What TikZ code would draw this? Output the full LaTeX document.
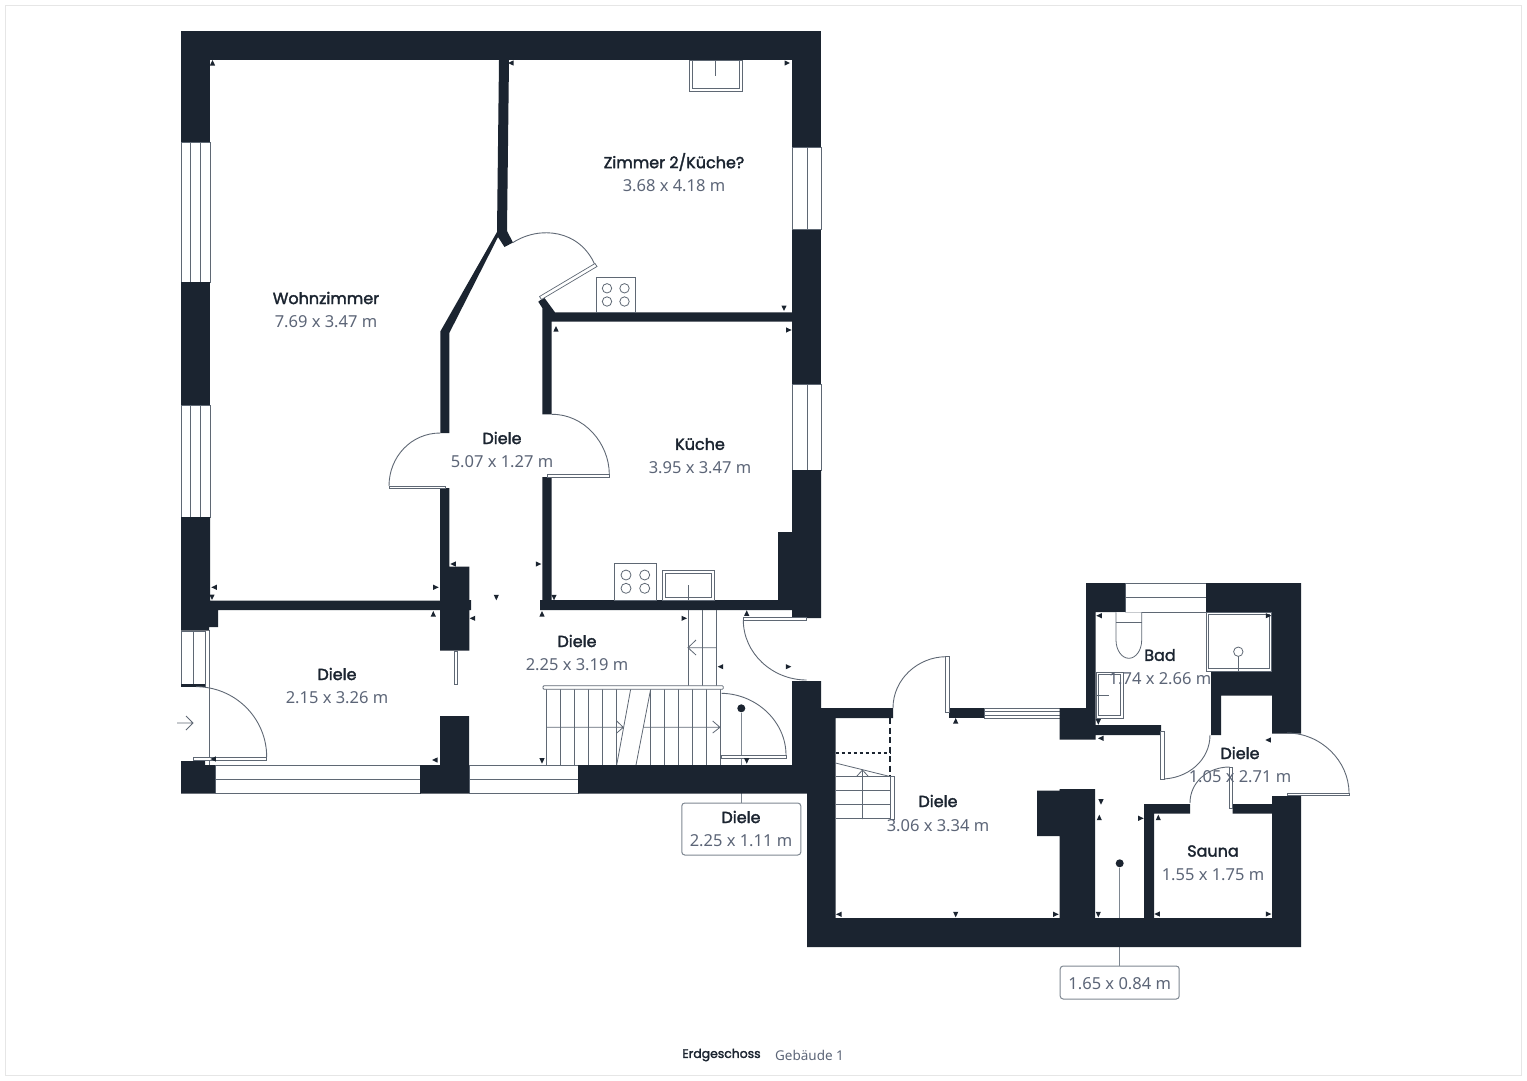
\documentclass[tikz,border=0pt]{standalone}
\usepackage{fontspec}
\setmainfont{Noto Sans}
\newfontfamily\labfont{Poppins}[FakeBold=2]
\definecolor{wallc}{HTML}{1B2430}
\definecolor{linec}{HTML}{5F6874}
\definecolor{dimc}{HTML}{5C6577}
\definecolor{leadc}{HTML}{7E8791}
\definecolor{framec}{HTML}{E6E6E6}
\tikzset{
  wall/.style={fill=wallc,draw=none},
  thinl/.style={draw=linec,line width=0.8pt},
  fix/.style={draw=linec,line width=0.8pt,fill=white},
  leaf/.style={draw=linec,line width=0.7pt,fill=white},
  arcl/.style={draw=linec,line width=0.9pt},
  room/.style={inner sep=0pt,align=center,text=wallc,font=\labfont\fontsize{16}{18}\selectfont},
  dimen/.style={inner sep=0pt,align=center,text=dimc,yshift=-1pt,font=\fontsize{16.5}{20}\selectfont},
  tagbox/.style={draw=leadc,line width=1pt,rounded corners=3pt,fill=white,inner sep=0pt},
  dotn/.style={circle,fill=wallc,inner sep=0pt,minimum size=8pt},
  leader/.style={draw=leadc,line width=1pt},
}
\newcommand{\mk}[3]{\fill[wallc,shift={(#1,#2)},rotate=#3] (-2.5,-2.6) -- (3,0) -- (-2.5,2.6) -- cycle;}
\begin{document}
\begin{tikzpicture}[x=1pt,y=-1pt]
\useasboundingbox (0,0) rectangle (1527,1080);
\draw[framec,line width=1pt] (5,5) rectangle (1521,1075);

% leaders
\node[dotn] (dotA) at (741.3,708.3) {};
\node[dotn] (dotB) at (1119.7,863.3) {};
\node[tagbox,minimum width=119pt,minimum height=52pt] (tagA) at (741.3,829) {};
\node[tagbox,minimum width=119pt,minimum height=33pt] (tagB) at (1119.7,982.5) {};
\draw[leader] (dotA) -- (tagA);
\draw[leader] (dotB) -- (tagB);

% windows
\foreach \ya/\yb in {142/282,405/517}{
  \draw[thinl] (181,\ya) rectangle (210,\yb);
  \draw[thinl] (190.7,\ya) -- (190.7,\yb) (200.7,\ya) -- (200.7,\yb);
}
\foreach \ya/\yb in {147/229.5,384/470}{
  \draw[thinl] (792,\ya) rectangle (821,\yb);
  \draw[thinl] (807,\ya) -- (807,\yb);
}
\foreach \xa/\xb in {215/420,469/578}{
  \draw[thinl] (\xa,765) rectangle (\xb,793.5);
  \draw[thinl] (\xa,779) -- (\xb,779);
}
\draw[thinl] (181,631) rectangle (205,686);
\draw[thinl] (193,631) -- (193,686);
\draw[thinl] (209.5,630) -- (209.5,765);
\draw[thinl] (1125,583) rectangle (1206,612);
\draw[thinl] (1125,597) -- (1206,597);
\draw[thinl] (984,708.5) rectangle (1060,718);
\draw[thinl] (984,711.5) -- (1060,711.5) (984,715) -- (1060,715);

% walls
\fill[wall] (181,31) rectangle (821,60);
\fill[wall] (181,31) rectangle (210,142);
\fill[wall] (181,282) rectangle (210,405);
\fill[wall] (792,31) rectangle (821,147);
\fill[wall] (792,229.5) rectangle (821,384);
\fill[wall] (792,470) -- (821,470) -- (821,618) -- (792,618) -- (792,610) -- (540,610) -- (540,600) -- (542.3,600) -- (542.3,477) -- (551.7,477) -- (551.7,600) -- (778,600) -- (778,532) -- (792,532) -- cycle;
\fill[wall] (538.3,301.7) -- (544,297.3) -- (555,312.3) -- (792,312.3) -- (792,321.7) -- (551.7,321.7) -- (551.7,414.3) -- (542.3,414.3) -- (542.3,308) -- cycle;
\fill[wall] (499,60) -- (509,60) -- (507,231) -- (513,242.5) -- (504.5,247) -- (498,237) -- (449.3,333) -- (449.3,433) -- (440.3,433) -- (440.3,331.5) -- (497,232) -- cycle;
\fill[wall] (181,517) -- (210,517) -- (210,600.5) -- (440,600.5) -- (440,488) -- (449.3,488) -- (449.3,566.7) -- (469.3,566.7) -- (469.3,600) -- (471,600) -- (471,610) -- (469.3,610) -- (469.3,650.7) -- (440,650.7) -- (440,610) -- (218,610) -- (218,627) -- (209,627) -- (209,630.7) -- (181,630.7) -- cycle;
\fill[wall] (181,684) rectangle (205,686.5);
\fill[wall] (181,761) -- (205,761) -- (205,765) -- (215,765) -- (215,793.5) -- (181,793.5) -- cycle;
\fill[wall] (420,765) -- (440,765) -- (440,716) -- (469,716) -- (469,793.5) -- (420,793.5) -- cycle;
\fill[wall] (578,765) -- (792,765) -- (792,681) -- (821,681) -- (821,708) -- (893,708) -- (893,718) -- (835.5,718) -- (835.5,918) -- (1059.5,918) -- (1059.5,836) -- (1037,836) -- (1037,790.5) -- (1059.5,790.5) -- (1059.5,789) -- (1095,789) -- (1095,918) -- (1144,918) -- (1144,804) -- (1190,804) -- (1190,813.5) -- (1154,813.5) -- (1154,918) -- (1272,918) -- (1272,813.5) -- (1232.7,813.5) -- (1232.7,804) -- (1272,804) -- (1272,796) -- (1301,796) -- (1301,947) -- (807,947) -- (807,793.5) -- (578,793.5) -- cycle;
\fill[wall] (949,708) rectangle (984,718);
\fill[wall] (1086,583) -- (1125,583) -- (1125,612) -- (1095.5,612) -- (1095.5,725) -- (1161,725) -- (1161,735) -- (1095.5,735) -- (1095.5,739.5) -- (1059.5,739.5) -- (1059.5,708) -- (1086,708) -- cycle;
\fill[wall] (1206,583) -- (1301,583) -- (1301,733.5) -- (1272,733.5) -- (1272,695.5) -- (1221,695.5) -- (1221,735) -- (1211,735) -- (1211,671) -- (1206,671) -- cycle;

% doors
\draw[arcl] (512.7,242.7) .. controls (540,225) and (580,230) .. (595,265);
\draw[leaf] (595,263.5) -- (597,266.5) -- (541.5,299.5) -- (539.5,296.5) -- cycle;
\draw[arcl] (440.3,433) .. controls (411,433) and (389,457) .. (389,486);
\draw[leaf] (389,486) rectangle (445,488.5);
\draw[arcl] (551.7,414.3) .. controls (584,414) and (609,443) .. (609.3,474);
\draw[leaf] (547,474) rectangle (609.3,477);
\draw[arcl] (196,686.7) .. controls (235,686.7) and (266.7,718) .. (266.7,757);
\draw[leaf] (193,757.5) rectangle (266.7,760.5);
\draw[leaf] (454,651) rectangle (457,684);
\draw[arcl] (721.7,693.3) .. controls (757,694) and (786,722) .. (786,755);
\draw[leaf] (721,755) rectangle (786.7,758);
\draw[arcl] (743.3,620) .. controls (743.3,653) and (772,680) .. (806.7,680);
\draw[leaf] (743.3,617.7) rectangle (806.7,620.3);
\draw[arcl] (893,708) .. controls (893,679) and (918,657) .. (945.7,656.7);
\draw[leaf] (945.7,656.7) rectangle (949,712.5);
\draw[arcl] (1161,779) .. controls (1188,779) and (1210,760) .. (1210,735);
\draw[leaf] (1160.7,731) rectangle (1164.2,779);
\draw[arcl] (1190,803) .. controls (1190,782) and (1208,767) .. (1229.5,767);
\draw[leaf] (1229.2,767) rectangle (1232.7,808.5);
\draw[arcl] (1287,733) .. controls (1321,733) and (1349,761) .. (1349,793);
\draw[leaf] (1287,793) rectangle (1349,795.7);

% entry arrow
\draw[thinl] (177,723) -- (193,723) (186,716) -- (193,723) -- (186,730);

% fixtures: upper room sink
\draw[fix] (689.6,60) rectangle (741.9,91.7);
\draw[thinl] (692.6,60) rectangle (738.9,88.7);
\draw[thinl] (715.7,60) -- (715.7,76);
% hobs
\draw[fix] (596.5,277.3) rectangle (635.7,312.3);
\foreach \cx in {607,624.5}{\foreach \cy in {288.3,301.5}{\draw[thinl] (\cx,\cy) circle (4.7);}}
\draw[fix] (614.3,563.3) rectangle (656.7,600);
\foreach \cx in {626,644.7}{\foreach \cy in {575,588.3}{\draw[thinl] (\cx,\cy) circle (5);}}
% kitchen sink
\draw[fix] (662.7,570) rectangle (714,600);
\draw[thinl] (665.7,573) rectangle (711,597);
\draw[thinl] (688.3,585) -- (688.3,600);
% bad
\draw[fix] (1116,612.3) -- (1116,640) arc[start angle=180,end angle=360,x radius=12.85,y radius=-18.3] -- (1141.7,612.3);
\draw[thinl] (1116,622.3) -- (1141.7,622.3);
\draw[fix] (1096,672.3) rectangle (1123.3,718.3);
\draw[thinl] (1098.5,674.8) rectangle (1120.8,715.8);
\draw[thinl] (1096,695) -- (1109,695);
\draw[fix] (1206,612.3) rectangle (1271.7,671);
\draw[thinl] (1208.5,614.8) rectangle (1269.2,668.5);
\draw[thinl] (1238.3,651.7) circle (4.7);
\draw[thinl] (1238.3,656.4) -- (1238.3,671);

% stairs upper
\draw[thinl] (688,610) -- (688,686) (702.7,610) -- (702.7,686) (716.7,610) -- (716.7,686);
\draw[thinl] (688,647.7) -- (716.7,647.7) (696,640) -- (688,647.7) -- (696,655);
\foreach \sx in {546,560.3,574.3,588.3,602.3,616.7,650,664,678,692.3,706,720}{
  \draw[thinl] (\sx,689) -- (\sx,765);
}
\draw[thinl] (630.7,689) -- (616.7,765) (650.7,689) -- (636,765);
\draw[thinl] (546,727.3) -- (623.3,727.3) (616.7,721) -- (623.3,727.3) -- (616.7,733);
\draw[thinl] (643.3,727.3) -- (720,727.3) (712.7,721) -- (720,727.3) -- (712.7,733);
\draw[fix,rounded corners=1pt] (543,685.7) rectangle (723.3,689.3);
% stairs lower wing
\draw[wallc,line width=1.6pt,dash pattern=on 6pt off 3.5pt] (890,718) -- (890,776);
\draw[wallc,line width=1.6pt,dash pattern=on 3pt off 3pt] (835.5,753) -- (890,753);
\draw[thinl] (835.5,763) -- (890,776.5);
\foreach \ty in {776.5,790.5,804.5,818.5}{\draw[thinl] (835.5,\ty) -- (890,\ty);}
\draw[thinl] (862.5,770) -- (862.5,819) (857,776) -- (862.5,770) -- (868,776);
\draw[leaf] (890,776.5) rectangle (894,819);

% small markers
\foreach \px/\py/\ang in {
212.5/63/90, 511/63/180, 787/63/0, 784/308/270, 556/329/90, 788.6/330/0,
214.3/587.3/180, 212/597/270, 435.7/587.3/0, 433.3/614/90, 453.3/564/180,
472.7/618.3/180, 496.3/597.3/270, 213.3/759/180, 435/760/180,
538.3/564/0, 554/597.3/270, 542/614/90, 684/618.3/0, 746.7/613.3/90,
720.7/666.7/180, 788.3/666.7/0, 542/760.7/270, 746.7/760.7/270,
955.7/721/90, 839/914.3/180, 955.7/914.3/270, 1055.7/914.3/0, 1098.3/914.3/270,
1098.3/721.7/270, 1101/738.3/180, 1101/801.7/270, 1099.3/817.7/90,
1140.7/818.3/0, 1158.3/817.7/90, 1157.3/914/180, 1268.3/914/0,
1099.3/615.7/180, 1268.3/615.7/0, 1268.3/740/180}{
  \mk{\px}{\py}{\ang}
}

% labels
\node[room] (wohnN) at (326,298) {Wohnzimmer};
\node[dimen] (wohnD) at (326,321) {7.69 x 3.47 m};
\node[room] (zimN) at (674,162) {Zimmer 2/Küche?};
\node[dimen] (zimD) at (674,185) {3.68 x 4.18 m};
\node[room] (d1N) at (502,438) {Diele};
\node[dimen] (d1D) at (502,461) {5.07 x 1.27 m};
\node[room] (kueN) at (700,444) {Küche};
\node[dimen] (kueD) at (700,467) {3.95 x 3.47 m};
\node[room] (d2N) at (577,641) {Diele};
\node[dimen] (d2D) at (577,664) {2.25 x 3.19 m};
\node[room] (d3N) at (337,674) {Diele};
\node[dimen] (d3D) at (337,697) {2.15 x 3.26 m};
\node[room] (d4N) at (741,817) {Diele};
\node[dimen] (d4D) at (741,840) {2.25 x 1.11 m};
\node[room] (d5N) at (938,801) {Diele};
\node[dimen] (d5D) at (938,825) {3.06 x 3.34 m};
\node[room] (badN) at (1160,655) {Bad};
\node[dimen] (badD) at (1160,678) {1.74 x 2.66 m};
\node[room] (d6N) at (1240,753) {Diele};
\node[dimen] (d6D) at (1240,776) {1.05 x 2.71 m};
\node[room] (sauN) at (1213,851) {Sauna};
\node[dimen] (sauD) at (1213,874) {1.55 x 1.75 m};
\node[dimen] (d7D) at (1119.7,983) {1.65 x 0.84 m};
\node[inner sep=0pt,text=wallc,font=\labfont\fontsize{12.4}{14}\selectfont] (floorN) at (721.5,1055) {Erdgeschoss};
\node[inner sep=0pt,text=dimc,font=\fontsize{13.5}{15}\selectfont] (floorB) at (809.5,1055) {Gebäude 1};
\end{tikzpicture}
\end{document}
